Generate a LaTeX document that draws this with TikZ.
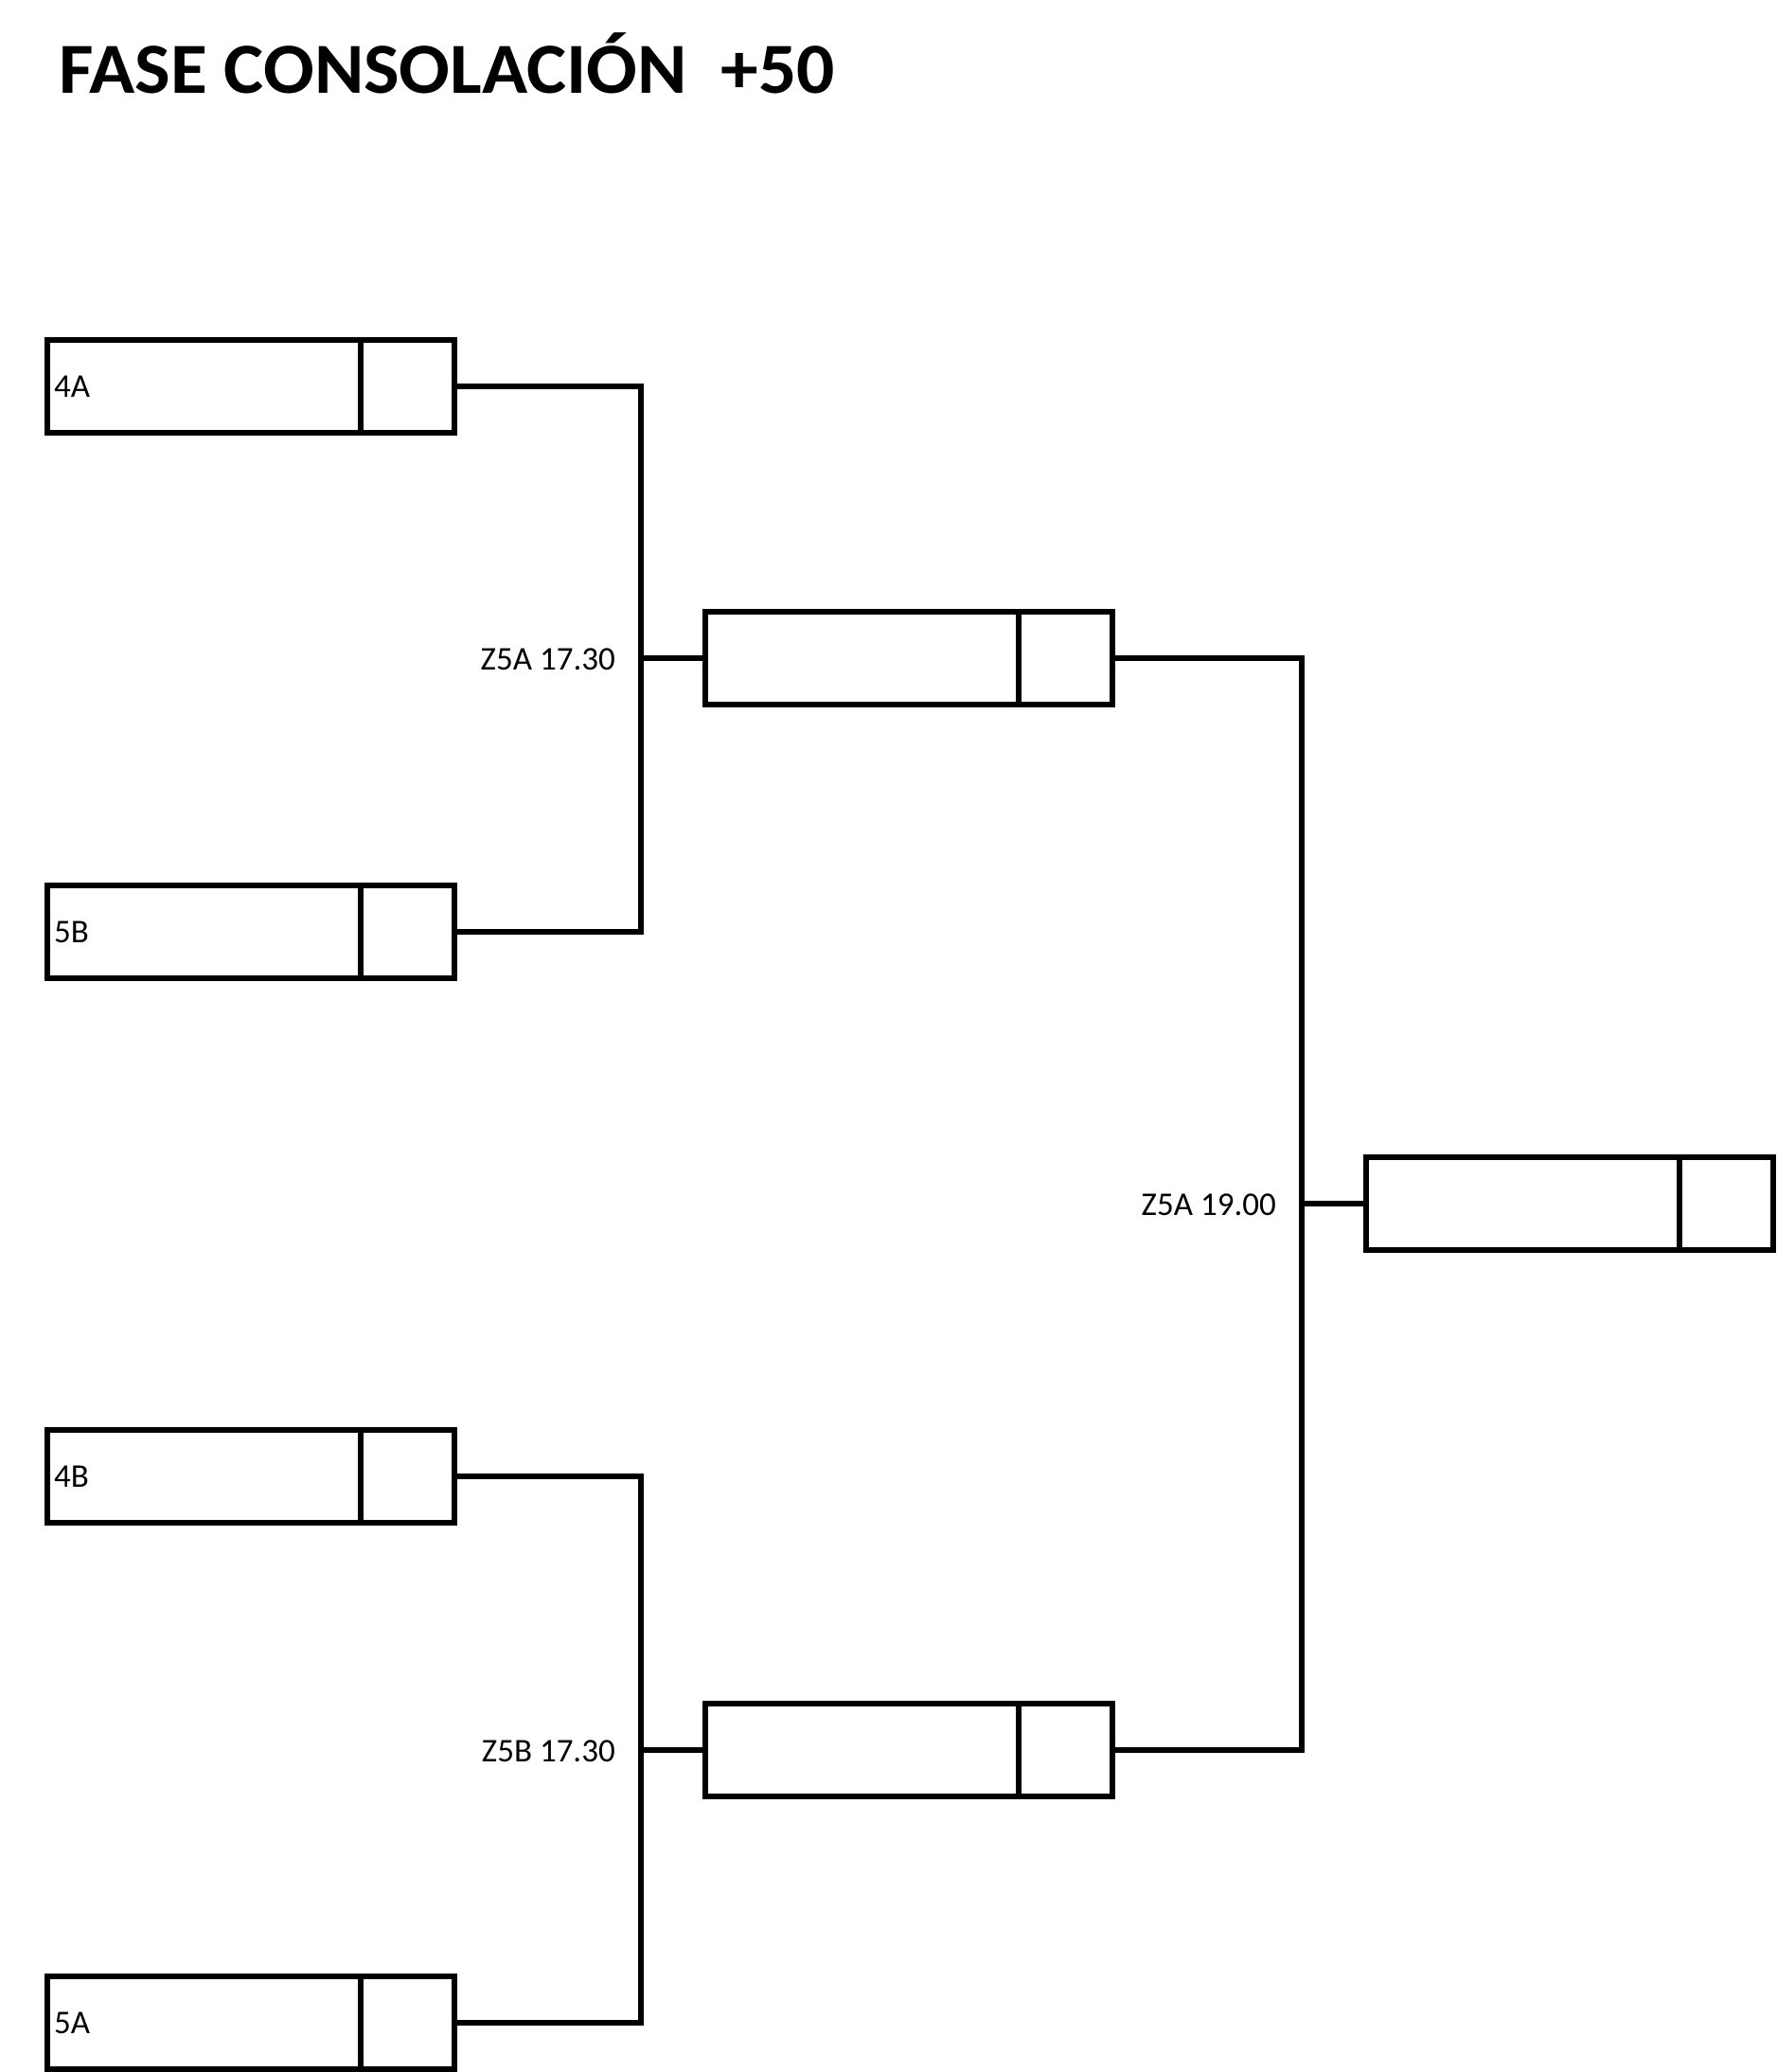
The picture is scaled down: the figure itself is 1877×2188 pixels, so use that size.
\documentclass[tikz,border=0pt]{standalone}
\usepackage{fontspec}
\setmainfont{Carlito}
\begin{document}
\begin{tikzpicture}[x=1pt,y=-1pt,
  slot/.style={draw=black, line width=5.5pt, rectangle, inner sep=0pt, outer sep=0pt,
               minimum width=430pt, minimum height=98pt},
  wire/.style={draw=black, line width=5.5pt, line join=miter},
  seed/.style={anchor=west, inner sep=0pt, font=\fontsize{35}{42}\selectfont},
  when/.style={anchor=east, inner sep=0pt, font=\fontsize{35}{42}\selectfont},
  ttl/.style={anchor=base west, inner sep=0pt, font=\bfseries\fontsize{76}{90}\selectfont}]
\useasboundingbox[fill=white] (0,0) rectangle (1877,2188);

\node[ttl] (title) at (62,98) {\scalebox{1.046}[1]{FASE CONSOLACIÓN\ \ +50}};

% round 1 slots
\node[slot] (a4) at (265,408) {};
\node[slot] (b5) at (265,984) {};
\node[slot] (b4) at (265,1559) {};
\node[slot] (a5) at (265,2136) {};
% semifinal slots
\node[slot] (m1) at (960,695) {};
\node[slot] (m2) at (960,1848) {};
% final slot
\node[slot] (f) at (1658,1271) {};

% dividers
\foreach \n in {a4,b5,b4,a5,m1,m2,f}{
  \draw[line width=5.5pt] ([xshift=-99pt]\n.north east) -- ([xshift=-99pt]\n.south east);
}

% seed labels
\node[seed] (la4) at (57,408) {4A};
\node[seed] (lb5) at (57,984) {5B};
\node[seed] (lb4) at (57,1559) {4B};
\node[seed] (la5) at (57,2136) {5A};

% junctions
\coordinate (j1) at (677,695);
\coordinate (j2) at (677,1848);
\coordinate (j3) at (1375,1271);

\draw[wire] (a4.east) -| (j1) |- (b5.east);
\draw[wire] (j1) -- (m1.west);
\draw[wire] (b4.east) -| (j2) |- (a5.east);
\draw[wire] (j2) -- (m2.west);
\draw[wire] (m1.east) -| (j3) |- (m2.east);
\draw[wire] (j3) -- (f.west);

% match labels
\node[when] (t1) at (650,696) {Z5A 17.30};
\node[when] (t2) at (650,1849) {Z5B 17.30};
\node[when] (t3) at (1348,1272) {Z5A 19.00};
\end{tikzpicture}
\end{document}
